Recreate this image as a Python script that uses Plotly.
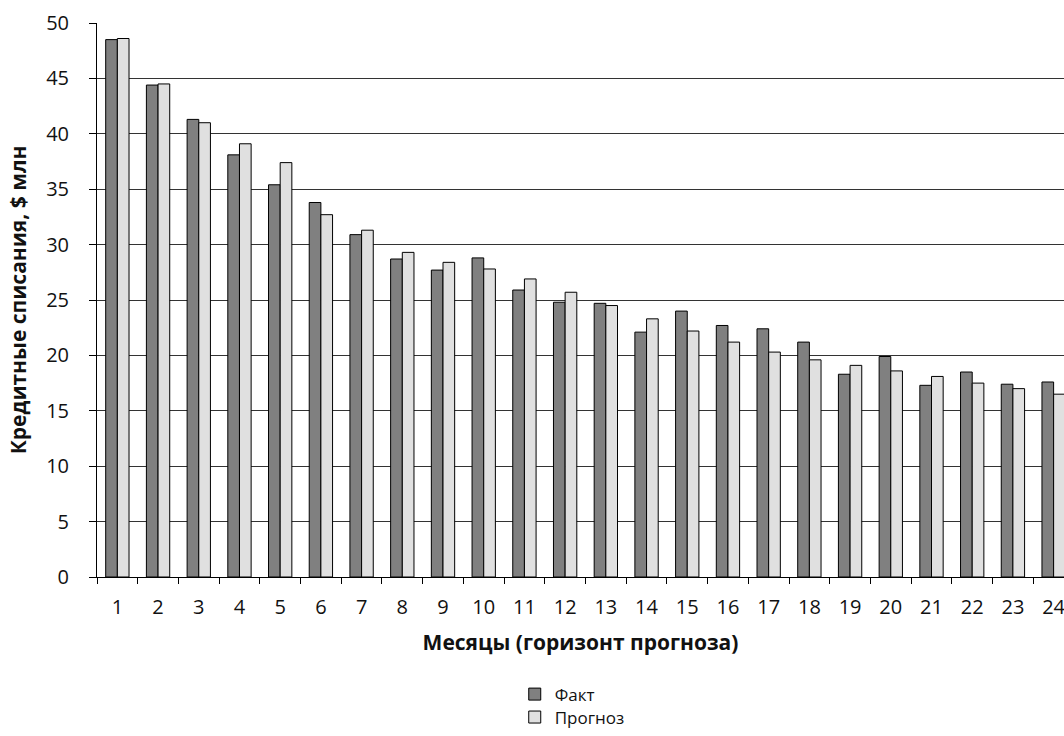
import plotly.graph_objects as go

# Horizon months and monthly credit write-offs, $ mln
months = [1, 2, 3, 4, 5, 6, 7, 8, 9, 10, 11, 12,
          13, 14, 15, 16, 17, 18, 19, 20, 21, 22, 23, 24]
month_labels = ["1", "2", "3", "4", "5", "6", "7", "8", "9", "10", "11", "12",
                "13", "14", "15", "16", "17", "18", "19", "20", "21", "22", "23", "24"]
fact = [48.5, 44.4, 41.3, 38.1, 35.4, 33.8, 30.9, 28.7, 27.7, 28.8, 25.9, 24.8,
        24.7, 22.1, 24.0, 22.7, 22.4, 21.2, 18.3, 19.9, 17.3, 18.5, 17.4, 17.6]
forecast = [48.6, 44.5, 41.0, 39.1, 37.4, 32.7, 31.3, 29.3, 28.4, 27.8, 26.9, 25.7,
            24.5, 23.3, 22.2, 21.2, 20.3, 19.6, 19.1, 18.6, 18.1, 17.5, 17.0, 16.5]
y_ticks = [0, 5, 10, 15, 20, 25, 30, 35, 40, 45, 50]

FONT = "Open Sans"
TEXT = "#111111"

fig = go.Figure()
fig.add_trace(go.Bar(
    x=months, y=fact, name="Факт", legend="legend",
    marker=dict(color="#808080", line=dict(color="#000000", width=1)),
))
fig.add_trace(go.Bar(
    x=months, y=forecast, name="Прогноз", legend="legend2",
    marker=dict(color="#e0e0e0", line=dict(color="#000000", width=1)),
))

boundaries = [m - 0.5 for m in months] + [months[-1] + 0.5]

legend_style = dict(
    orientation="v", xanchor="left", yanchor="middle",
    font=dict(family=FONT, size=17, color=TEXT),
    bgcolor="rgba(0,0,0,0)", borderwidth=0,
)

fig.update_layout(
    width=1064, height=736,
    margin=dict(l=97, r=0, t=23, b=157),
    paper_bgcolor="white", plot_bgcolor="white",
    font=dict(family=FONT, color=TEXT, size=20),
    barmode="group", bargap=0.427, bargroupgap=0,
    showlegend=True,
    legend=dict(x=0.432, y=-0.2122, **legend_style),
    legend2=dict(x=0.432, y=-0.2536, **legend_style),
    xaxis=dict(
        type="linear", range=[0.5, 24.255], automargin=False,
        tickmode="array", tickvals=months, ticktext=month_labels,
        ticks="", showgrid=False, zeroline=False,
        showline=True, linecolor="#000000", linewidth=1,
        tickfont=dict(family=FONT, size=20, color=TEXT),
        ticklabelstandoff=12, ticklabeloverflow="allow",
        minor=dict(tickmode="array", tickvals=boundaries, ticks="outside",
                   ticklen=6, tickcolor="#000000", tickwidth=1, showgrid=False),
        title=dict(text="<b>Месяцы (горизонт прогноза)</b>", standoff=16,
                   font=dict(family=FONT, size=21, color=TEXT)),
    ),
    yaxis=dict(
        range=[0, 50], tickmode="array", tickvals=y_ticks, automargin=False,
        ticks="outside", ticklen=7, tickcolor="#000000", tickwidth=1,
        showgrid=True, gridcolor="#333333", gridwidth=1, zeroline=False,
        showline=True, linecolor="#000000", linewidth=1,
        tickfont=dict(family=FONT, size=20, color=TEXT),
        ticklabelstandoff=16,
        title=dict(text="<b>Кредитные списания, $ млн</b>", standoff=13,
                   font=dict(family=FONT, size=21, color=TEXT)),
    ),
)

fig.write_html("out.html")
